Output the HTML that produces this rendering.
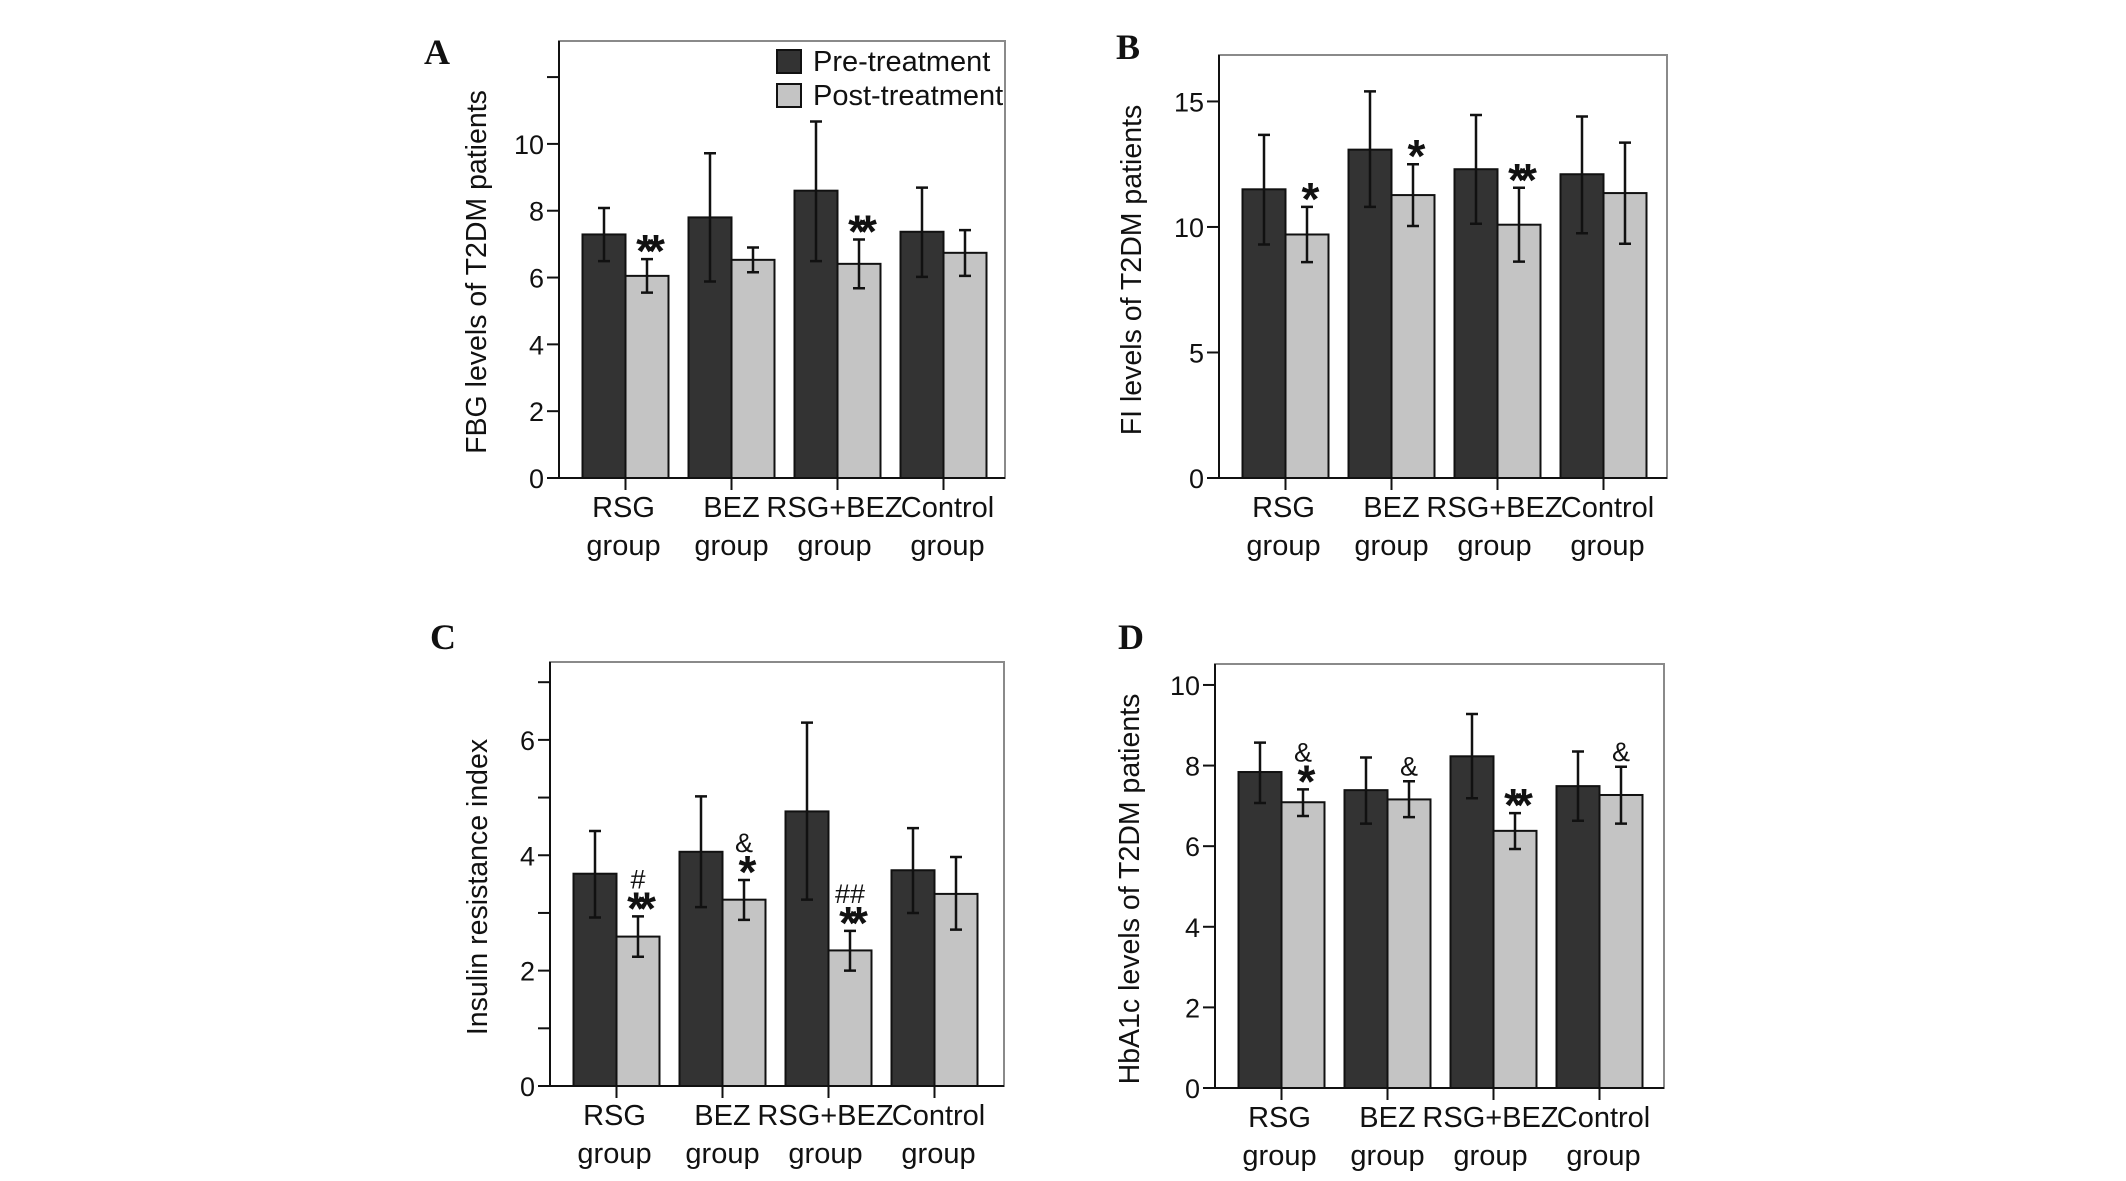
<!DOCTYPE html>
<html><head><meta charset="utf-8"><style>
body{margin:0;background:#fff}
svg{display:block}
text{font-family:"Liberation Sans",Arial,sans-serif;fill:#111}
.letter{font-family:"Liberation Serif",serif;font-weight:bold;font-size:36px}
</style></head><body>
<svg id="fig" width="2126" height="1181" viewBox="0 0 2126 1181" xmlns="http://www.w3.org/2000/svg"></svg>
<script>
const categories = ["RSG", "BEZ", "RSG+BEZ", "Control"];
const seriesNames = ["Pre-treatment", "Post-treatment"];
// Panel A: FBG
const aPre = [7.29, 7.8, 8.6, 7.37];
const aPreHi = [8.08, 9.72, 10.67, 8.69];
const aPreLo = [6.49, 5.88, 6.49, 6.02];
const aPost = [6.05, 6.53, 6.41, 6.74];
const aPostHi = [6.55, 6.9, 7.14, 7.42];
const aPostLo = [5.55, 6.16, 5.68, 6.05];
const aStars = ["**", "", "**", ""];
const aSyms = ["", "", "", ""];
const aTicks = [0, 2, 4, 6, 8, 10, 12];
const aTickLabels = ["0", "2", "4", "6", "8", "10", ""];
// Panel B: FI
const bPre = [11.5, 13.08, 12.3, 12.1];
const bPreHi = [13.67, 15.4, 14.46, 14.4];
const bPreLo = [9.3, 10.8, 10.13, 9.75];
const bPost = [9.7, 11.27, 10.09, 11.35];
const bPostHi = [10.8, 12.5, 11.56, 13.36];
const bPostLo = [8.6, 10.04, 8.62, 9.33];
const bStars = ["*", "*", "**", ""];
const bSyms = ["", "", "", ""];
const bTicks = [0, 5, 10, 15];
const bTickLabels = ["0", "5", "10", "15"];
// Panel C: insulin resistance
const cPre = [3.68, 4.06, 4.76, 3.74];
const cPreHi = [4.42, 5.02, 6.3, 4.47];
const cPreLo = [2.92, 3.1, 3.23, 3.0];
const cPost = [2.59, 3.23, 2.35, 3.33];
const cPostHi = [2.94, 3.57, 2.69, 3.97];
const cPostLo = [2.24, 2.88, 2.0, 2.71];
const cStars = ["**", "*", "**", ""];
const cSyms = ["#", "&", "##", ""];
const cTicks = [0, 1, 2, 3, 4, 5, 6, 7];
const cTickLabels = ["0", "", "2", "", "4", "", "6", ""];
// Panel D: HbA1c
const dPre = [7.84, 7.39, 8.23, 7.49];
const dPreHi = [8.57, 8.2, 9.28, 8.35];
const dPreLo = [7.07, 6.56, 7.19, 6.63];
const dPost = [7.09, 7.16, 6.38, 7.27];
const dPostHi = [7.41, 7.61, 6.82, 7.97];
const dPostLo = [6.75, 6.72, 5.93, 6.56];
const dStars = ["*", "", "**", ""];
const dSyms = ["&", "&", "", "&"];
const dTicks = [0, 2, 4, 6, 8, 10];
const dTickLabels = ["0", "2", "4", "6", "8", "10"];

const labelOffsets = [-2, 0, -3, 4];

const NS = "http://www.w3.org/2000/svg";
const svg = document.getElementById("fig");
function mk(tag, attrs, parent, txt) {
  const e = document.createElementNS(NS, tag);
  for (const k in attrs) e.setAttribute(k, attrs[k]);
  if (txt !== undefined) e.textContent = txt;
  (parent || svg).appendChild(e);
  return e;
}

function panel(p) {
  const g = mk("g", {});
  
  
  const y = v => p.axisY - (v / p.ymax) * (p.axisY - p.top);
  const cx = i => p.left + 66.5 + i * 106;
  const bw = 43;
  const fr = mk("rect", {x: p.left, y: p.top, width: p.right - p.left, height: p.axisY - p.top, fill: "none", stroke: "#8a8a8a", "stroke-width": 2}, g);
  
  
  for (let i = 0; i < categories.length; i++) {
    const vals = [[p.pre[i], p.preHi[i], p.preLo[i], "#333333", cx(i) - bw, "pre"], [p.post[i], p.postHi[i], p.postLo[i], "#c4c4c4", cx(i), "post"]];
    vals.forEach(v => {
      const r = mk("rect", {x: v[4], y: y(v[0]), width: bw, height: p.axisY - y(v[0]), fill: v[3], stroke: "#111", "stroke-width": 2}, g);
      
      
      const mx = v[4] + bw / 2;
      const eb = mk("path", {d: `M${mx},${y(v[1])}V${y(v[2])}M${mx - 6},${y(v[1])}H${mx + 6}M${mx - 6},${y(v[2])}H${mx + 6}`, stroke: "#111", "stroke-width": 2.5, fill: "none"}, g);
      
      
    });
    const mx = cx(i) + bw / 2;
    let top = y(p.postHi[i]);
    if (p.stars[i]) {
      const s = mk("text", {x: mx, y: top + 8, "text-anchor": "middle", "font-size": 46, "font-weight": "bold", "letter-spacing": "-7"}, g, p.stars[i]);
      
      
      top = top - 22;
    }
    if (p.syms[i]) {
      const s = mk("text", {x: mx, y: top - 6, "text-anchor": "middle", "font-size": 27}, g, p.syms[i]);
      
      
    }
    const t = mk("line", {x1: cx(i), x2: cx(i), y1: p.axisY, y2: p.axisY + 12, stroke: "#111", "stroke-width": 2}, g);
    
    
    const lx = cx(i) + labelOffsets[i];
    const l1 = mk("text", {x: lx, y: p.axisY + 39, "text-anchor": "middle", "font-size": 29}, g, categories[i]);
    
    
    const l2 = mk("text", {x: lx, y: p.axisY + 77, "text-anchor": "middle", "font-size": 29}, g, "group");
    
    
  }
  const ax = mk("path", {d: `M${p.left - 12},${p.axisY}H${p.right}M${p.left},${p.axisY}V${p.top}`, stroke: "#111", "stroke-width": 2, fill: "none"}, g);
  
  
  p.ticks.forEach((tv, k) => {
    const tk = mk("line", {x1: p.left - 12, x2: p.left, y1: y(tv), y2: y(tv), stroke: "#111", "stroke-width": 2}, g);
    
    
    if (p.tickLabels[k]) {
      const tl = mk("text", {x: p.left - 15, y: y(tv) + 10, "text-anchor": "end", "font-size": 27}, g, p.tickLabels[k]);
      
      
    }
  });
  const yt = mk("text", {x: p.titleX, y: p.titleY, "text-anchor": "middle", "font-size": 28.5, transform: `rotate(-90 ${p.titleX} ${p.titleY})`, dy: 10}, g, p.title);
  
  
  const lt = mk("text", {x: p.letterX, y: p.letterY, class: "letter", "text-anchor": "middle"}, g, p.id);
  
  
}

panel({id: "A", left: 559, right: 1005, top: 41, axisY: 478, ymax: 13.08, pre: aPre, preHi: aPreHi, preLo: aPreLo, post: aPost, postHi: aPostHi, postLo: aPostLo, stars: aStars, syms: aSyms, ticks: aTicks, tickLabels: aTickLabels, title: "FBG levels of T2DM patients", titleX: 476, titleY: 272, letterX: 437, letterY: 64});
panel({id: "B", left: 1219, right: 1667, top: 55, axisY: 478, ymax: 16.85, pre: bPre, preHi: bPreHi, preLo: bPreLo, post: bPost, postHi: bPostHi, postLo: bPostLo, stars: bStars, syms: bSyms, ticks: bTicks, tickLabels: bTickLabels, title: "FI levels of T2DM patients", titleX: 1131, titleY: 270, letterX: 1128, letterY: 59});
panel({id: "C", left: 550, right: 1004, top: 662, axisY: 1086, ymax: 7.35, pre: cPre, preHi: cPreHi, preLo: cPreLo, post: cPost, postHi: cPostHi, postLo: cPostLo, stars: cStars, syms: cSyms, ticks: cTicks, tickLabels: cTickLabels, title: "Insulin resistance index", titleX: 477, titleY: 887, letterX: 443, letterY: 649});
panel({id: "D", left: 1215, right: 1664, top: 664, axisY: 1088, ymax: 10.52, pre: dPre, preHi: dPreHi, preLo: dPreLo, post: dPost, postHi: dPostHi, postLo: dPostLo, stars: dStars, syms: dSyms, ticks: dTicks, tickLabels: dTickLabels, title: "HbA1c levels of T2DM patients", titleX: 1129, titleY: 889, letterX: 1131, letterY: 649});

const leg = mk("g", {});


const legFill = ["#333333", "#c4c4c4"];
seriesNames.forEach((n, i) => {
  const yy = 50 + i * 34;
  const sw = mk("rect", {x: 777, y: yy, width: 24, height: 23, fill: legFill[i], stroke: "#111", "stroke-width": 2}, leg);
  
  
  const tx = mk("text", {x: 813, y: yy + 21, "font-size": 29}, leg, n);
  
  
});
</script>
</body></html>
